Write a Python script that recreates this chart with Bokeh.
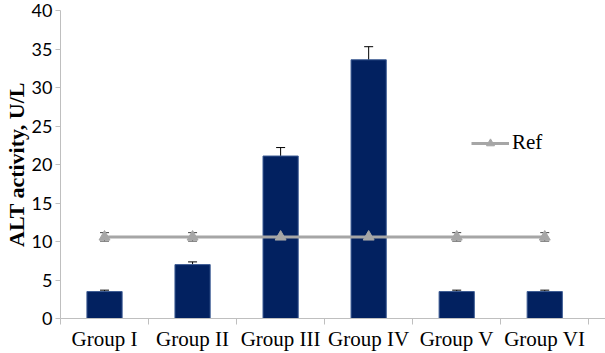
from bokeh.plotting import figure
from bokeh.models import (Range1d, FixedTicker, ColumnDataSource, Whisker, TeeHead,
                          Legend, LegendItem)
from bokeh.embed import file_html
from bokeh.resources import INLINE

groups = ["Group I", "Group II", "Group III", "Group IV", "Group V", "Group VI"]
alt = [3.5, 7.0, 21.1, 33.6, 3.5, 3.5]
alt_err = [0.18, 0.35, 1.1, 1.7, 0.18, 0.18]
ref = [10.6, 10.6, 10.6, 10.6, 10.6, 10.6]
ref_err = [0.55, 0.55, 0.55, 0.55, 0.55, 0.55]
y_ticks = [0, 5, 10, 15, 20, 25, 30, 35, 40]
y_title = "ALT activity, U/L"

xc = [i + 0.5 for i in range(len(groups))]
bars = ColumnDataSource(dict(x=xc, y=alt,
                             lo=[v - e for v, e in zip(alt, alt_err)],
                             hi=[v + e for v, e in zip(alt, alt_err)]))
refs = ColumnDataSource(dict(x=xc, y=ref,
                             lo=[v - e for v, e in zip(ref, ref_err)],
                             hi=[v + e for v, e in zip(ref, ref_err)]))

p = figure(width=605, height=353, output_backend="svg", toolbar_location=None,
           x_range=Range1d(0, 6.19), y_range=Range1d(0, 40),
           min_border_left=60, min_border_right=0, min_border_top=10, min_border_bottom=0)
p.outline_line_color = None
p.xgrid.visible = False
p.ygrid.visible = False
p.background_fill_color = "white"

p.vbar(x="x", top="y", width=0.4, source=bars, fill_color="#022160",
       line_color="#3d5c94", line_width=1)
p.add_layout(Whisker(base="x", upper="hi", lower="lo", source=bars,
                     line_color="black", line_width=1,
                     upper_head=TeeHead(size=9, line_color="black", line_width=1),
                     lower_head=TeeHead(size=9, line_color="black", line_width=1)))

rl = p.line(x="x", y="y", source=refs, line_color="#A6A6A6", line_width=3)
rm = p.scatter(x="x", y="y", source=refs, marker="triangle", size=11,
               fill_color="#A6A6A6", line_color="#A6A6A6")
p.add_layout(Whisker(base="x", upper="hi", lower="lo", source=refs,
                     line_color="#595959", line_width=1,
                     upper_head=TeeHead(size=9, line_color="#404040", line_width=1),
                     lower_head=TeeHead(size=9, line_color="#404040", line_width=1)))

# x axis
xa = p.xaxis[0]
xa.ticker = FixedTicker(ticks=xc, minor_ticks=list(range(len(groups) + 1)))
xa.major_label_overrides = {x: g for x, g in zip(xc, groups)}
xa.major_tick_out = 0
xa.major_tick_in = 0
xa.minor_tick_out = 6
xa.minor_tick_in = 0
xa.minor_tick_line_color = "#BFBFBF"
xa.axis_line_color = "#BFBFBF"
xa.major_label_text_font = "Liberation Serif"
xa.major_label_text_font_size = "21px"
xa.major_label_text_color = "black"
xa.major_label_standoff = 2

# y axis
ya = p.yaxis[0]
ya.ticker = FixedTicker(ticks=y_ticks, minor_ticks=[])
ya.major_tick_out = 5
ya.major_tick_in = 0
ya.major_tick_line_color = "#BFBFBF"
ya.axis_line_color = "#BFBFBF"
ya.major_label_text_font = "Lato"
ya.major_label_text_font_size = "18px"
ya.major_label_text_color = "black"
ya.major_label_standoff = 3
ya.axis_label = y_title
ya.axis_label_text_font = "Liberation Serif"
ya.axis_label_text_font_style = "bold"
ya.axis_label_text_font_size = "22px"
ya.axis_label_text_color = "black"
ya.axis_label_standoff = 0

legend = Legend(items=[LegendItem(label="Ref", renderers=[rl, rm])],
                location=(411, 163), padding=0, margin=0, spacing=0,
                glyph_width=38, glyph_height=20, label_height=20, label_standoff=3,
                label_text_font="Liberation Serif", label_text_font_size="21px",
                label_text_color="black",
                border_line_color=None, background_fill_alpha=0)
p.add_layout(legend)

open("out.html", "w").write(file_html(p, INLINE))
